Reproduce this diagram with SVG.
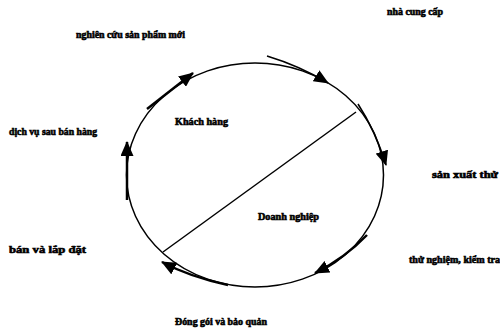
<svg xmlns="http://www.w3.org/2000/svg" width="500" height="329" viewBox="0 0 500 329">
<defs>
<style>
.lbl{font-family:"Liberation Serif","Times New Roman",serif;font-weight:bold;font-size:10px;fill:#000;stroke:#000;stroke-width:0.6}
.ring{fill:none;stroke:#000;stroke-width:1.5}
.arr{fill:none;stroke:#000;stroke-width:2.5;marker-end:url(#ah)}
.arrt{fill:none;stroke:#000;stroke-width:1.6;marker-end:url(#ah)}
</style>
<marker id="ah" markerUnits="userSpaceOnUse" markerWidth="15" markerHeight="13" refX="14" refY="6.5" orient="auto">
<path d="M0,0 L15,6.5 L0,13 z" fill="#000"/>
</marker>
</defs>
<rect width="500" height="329" fill="#fff"/>
<g id="cycle">
<ellipse class="ring" cx="255" cy="175" rx="128.5" ry="112"/>
<line x1="163" y1="252" x2="356" y2="112" stroke="#000" stroke-width="1.5"/>
</g>
<g id="connectors">
<path class="arr" d="M147,109 L193,73"/>
<path class="arrt" d="M267,56 Q300,66 328,83"/>
<path class="arrt" d="M358,104 Q375,130 386,165"/>
<path class="arr" d="M367,235 Q345,258 315,273"/>
<path class="arr" d="M228,285 Q190,277 162,262"/>
<path class="arr" d="M127,200 L127,142"/>
</g>
<g id="n-ncc"><text class="lbl" x="387" y="15" textLength="56" lengthAdjust="spacingAndGlyphs">nhà cung cấp</text></g>
<g id="n-ncsp"><text class="lbl" x="76" y="38" textLength="109" lengthAdjust="spacingAndGlyphs">nghiên cứu sản phẩm mới</text></g>
<g id="n-kh"><text class="lbl" x="175" y="125" textLength="53" lengthAdjust="spacingAndGlyphs">Khách hàng</text></g>
<g id="n-dv"><text class="lbl" x="9" y="135" textLength="88" lengthAdjust="spacingAndGlyphs">dịch vụ sau bán hàng</text></g>
<g id="n-sx"><text class="lbl" x="432" y="178" textLength="66" lengthAdjust="spacingAndGlyphs">sản xuất thử</text></g>
<g id="n-dn"><text class="lbl" x="258" y="220" textLength="61" lengthAdjust="spacingAndGlyphs">Doanh nghiệp</text></g>
<g id="n-tn"><text class="lbl" x="409" y="263" textLength="91" lengthAdjust="spacingAndGlyphs">thử nghiệm, kiểm tra</text></g>
<g id="n-ban"><text class="lbl" x="9" y="253" textLength="77" lengthAdjust="spacingAndGlyphs">bán và lắp đặt</text></g>
<g id="n-dg"><text class="lbl" x="175" y="325" textLength="92" lengthAdjust="spacingAndGlyphs">Đóng gói và bảo quản</text></g>
</svg>
